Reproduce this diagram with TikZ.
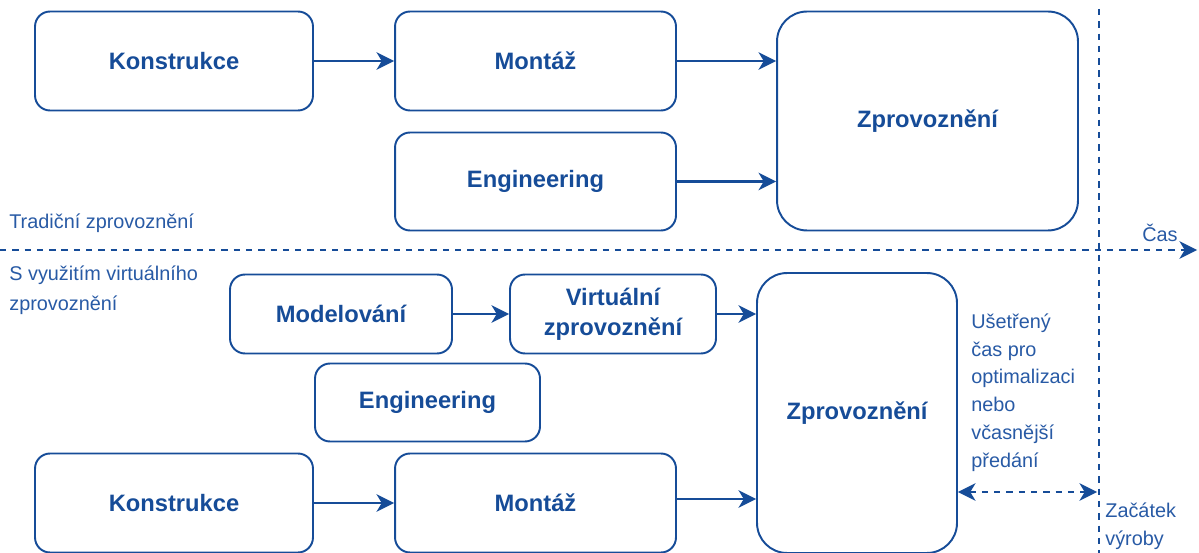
\documentclass[tikz,border=0pt]{standalone}
\usepackage{fontspec}
\setmainfont{Liberation Sans}
\usetikzlibrary{arrows.meta,calc}
\definecolor{vcblue}{RGB}{22,76,152}
\definecolor{vctext}{RGB}{40,90,165}

\begin{document}
\begin{tikzpicture}[x=0.02cm,y=-0.02cm,>={Stealth[length=10pt,width=10pt,inset=3pt]},line join=round,
  box/.style={draw=vcblue,line width=1.1pt,rounded corners=0.3cm,align=center,text=vcblue,
    font=\fontsize{13.5}{17}\selectfont\bfseries,inner sep=0pt},
  bigbox/.style={box,rounded corners=0.6cm},
  flow/.style={->,draw=vcblue,line width=1.3pt},
  timeline/.style={draw=vcblue,line width=1.2pt,dash pattern=on 3.6pt off 3.4pt},
  note/.style={text=vctext,font=\fontsize{11.3}{15.8}\selectfont,inner sep=0pt,align=left}]
  \useasboundingbox (0,0) rectangle (1199,553);

  % tradicni
  \node[box,minimum width=5.56cm,minimum height=1.98cm] (konT) at (174,61) {Konstrukce};
  \node[box,minimum width=5.62cm,minimum height=1.98cm] (monT) at (535.5,61) {Montáž};
  \node[box,minimum width=5.62cm,minimum height=1.96cm] (engT) at (535.5,181.5) {Engineering};
  \node[bigbox,minimum width=6.02cm,minimum height=4.38cm] (zprT) at (927.5,121) {Zprovoznění};

  \draw[flow] (konT) -- (monT);
  \draw[flow] (monT.east) -- (monT.east -| zprT.west);
  \draw[flow] (engT.east) -- (engT.east -| zprT.west);

  % virtualni
  \node[box,minimum width=4.44cm,minimum height=1.58cm] (modB) at (341,314) {Modelování};
  \node[box,minimum width=4.12cm,minimum height=1.58cm] (virB) at (613,314) {Virtuální\\zprovoznění};
  \node[box,minimum width=4.5cm,minimum height=1.56cm] (engB) at (427.5,402.5) {Engineering};
  \node[box,minimum width=5.56cm,minimum height=1.98cm] (konB) at (174,503) {Konstrukce};
  \node[box,minimum width=5.62cm,minimum height=1.98cm] (monB) at (535.5,503) {Montáž};
  \node[bigbox,minimum width=4cm,minimum height=5.6cm] (zprB) at (857,413) {Zprovoznění};

  \draw[flow] (modB) -- (virB);
  \draw[flow] (virB.east) -- (virB.east -| zprB.west);
  \draw[flow] (konB) -- (monB);
  \draw[flow] ($(monB.east)+(0,-4)$) -- ($(monB.east -| zprB.west)+(0,-4)$);

  % casova osa
  \coordinate (casL) at (0,250);
  \coordinate (casR) at (1197,250);
  \coordinate (vyrT) at (1099,9);
  \coordinate (vyrB) at (1099,553);
  \coordinate (usetR) at (1097,492);
  \draw[timeline,->] (casL) -- (casR);
  \draw[timeline] (vyrT) -- (vyrB);
  \draw[timeline,<->] (zprB.east |- usetR) -- (usetR);

  \node[note,anchor=west] (trad) at (9,223) {Tradiční zprovoznění};
  \node[note,anchor=west] (virt) at (9,290) {S využitím virtuálního\\[1.2pt]zprovoznění};
  \node[note] (cas) at (1160,233) {Čas};
  \node[note,anchor=west] (uset) at (971,392.5) {Ušetřený\\čas pro\\optimalizaci\\nebo\\včasnější\\předání};
  \node[note,anchor=west] (zac) at (1105,526) {Začátek\\výroby};
\end{tikzpicture}
\end{document}
